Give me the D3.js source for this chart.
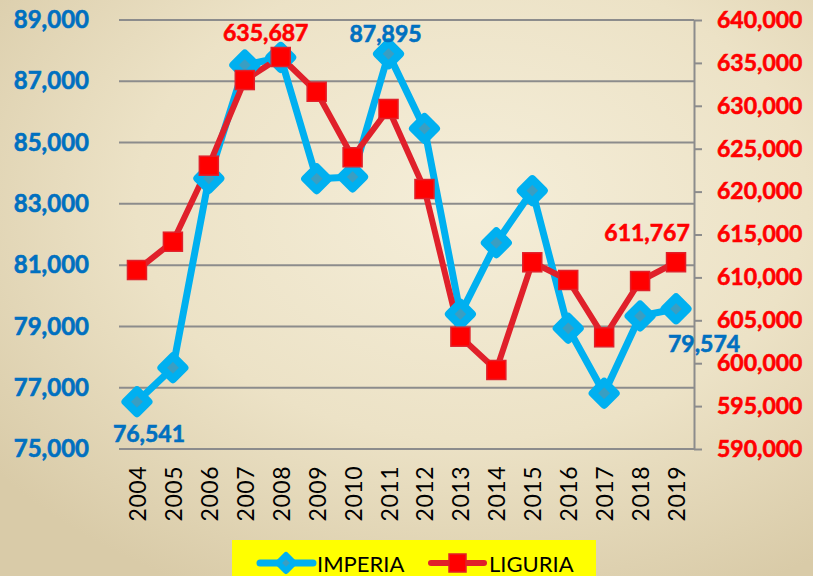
<!DOCTYPE html>
<html>
<head>
<meta charset="utf-8">
<script src="https://cdn.jsdelivr.net/npm/d3@7"></script>
<style>
  body { margin: 0; }
  svg { display: block; }
</style>
</head>
<body>
<div id="chart"></div>
<script>
// Data
const years = ["2004","2005","2006","2007","2008","2009","2010","2011","2012","2013","2014","2015","2016","2017","2018","2019"];
const imperia = [76541, 77650, 83830, 87530, 87780, 83820, 83880, 87895, 85460, 79400, 81730, 83430, 78940, 76820, 79340, 79574];
const liguria = [610860, 614160, 623020, 633000, 635687, 631640, 624000, 629630, 620300, 603090, 599210, 611760, 609700, 603020, 609580, 611767];
const leftTicks = [75000, 77000, 79000, 81000, 83000, 85000, 87000, 89000];
const rightTicks = [590000, 595000, 600000, 605000, 610000, 615000, 620000, 625000, 630000, 635000, 640000];

const W = 813, H = 576;
const plot = { left: 119, right: 694, top: 20, bottom: 449 };
const fmt = d3.format(",");

const svg = d3.select("#chart")
    .append("svg")
    .attr("width", W)
    .attr("height", H);

// Background gradient
const defs = svg.append("defs");
const grad = defs.append("radialGradient")
    .attr("id", "bg")
    .attr("cx", "0.58").attr("cy", "0.35").attr("r", "0.75");
grad.append("stop").attr("offset", "0%").attr("stop-color", "#f5eed9");
grad.append("stop").attr("offset", "55%").attr("stop-color", "#ece2c6");
grad.append("stop").attr("offset", "100%").attr("stop-color", "#d9cba8");
svg.append("rect").attr("width", W).attr("height", H).attr("fill", "url(#bg)");

// Scales
const x = d3.scalePoint()
    .domain(years)
    .range([plot.left, plot.right])
    .padding(0.5);

const yL = d3.scaleLinear()
    .domain([75000, 89000])
    .range([plot.bottom, plot.top]);

const yR = d3.scaleLinear()
    .domain([590000, 640000])
    .range([plot.bottom, plot.top]);

// Gridlines (left axis)
svg.append("g")
    .selectAll("line")
    .data(leftTicks)
    .enter()
    .append("line")
    .attr("x1", plot.left)
    .attr("x2", plot.right)
    .attr("y1", d => yL(d))
    .attr("y2", d => yL(d))
    .attr("stroke", "#8c8c8c")
    .attr("stroke-width", 2);

// Left axis labels
const leftAxis = svg.append("g")
    .attr("transform", `translate(${plot.left},0)`)
    .call(d3.axisLeft(yL).tickValues(leftTicks).tickFormat(fmt).tickSize(0).tickPadding(30));
leftAxis.select(".domain").remove();
leftAxis.selectAll("text")
    .attr("fill", "#0070c0")
    .attr("stroke", "#0070c0")
    .attr("stroke-width", 0.6)
    .style("font-family", "Lato")
    .style("font-weight", "bold")
    .style("font-size", "24px");

// Right axis
const rightAxis = svg.append("g")
    .attr("transform", `translate(${plot.right},0)`)
    .call(d3.axisRight(yR).tickValues(rightTicks).tickFormat(fmt).tickSize(8).tickSizeOuter(0).tickPadding(15));
rightAxis.select(".domain").attr("stroke", "#8c8c8c").attr("stroke-width", 2);
rightAxis.selectAll(".tick line").attr("stroke", "#8c8c8c").attr("stroke-width", 2);
rightAxis.selectAll("text")
    .attr("fill", "#ff0000")
    .attr("stroke", "#ff0000")
    .attr("stroke-width", 0.6)
    .style("font-family", "Lato")
    .style("font-weight", "bold")
    .style("font-size", "23px");

// X axis labels (rotated)
svg.append("g")
    .selectAll("text")
    .data(years)
    .enter()
    .append("text")
    .attr("transform", d => `translate(${x(d)},466) rotate(-90)`)
    .attr("text-anchor", "end")
    .attr("dominant-baseline", "central")
    .attr("fill", "#000")
    .style("font-family", "Lato")
    .style("font-size", "23px")
    .style("letter-spacing", "0.5px")
    .text(d => d);

// Lines
const blue = "#00b0f0", red = "#e0202a";

svg.append("path")
    .datum(imperia)
    .attr("fill", "none")
    .attr("stroke", blue)
    .attr("stroke-width", 7)
    .attr("stroke-linejoin", "round")
    .attr("d", d3.line().x((d, i) => x(years[i])).y(d => yL(d)));

svg.append("path")
    .datum(liguria)
    .attr("fill", "none")
    .attr("stroke", red)
    .attr("stroke-width", 6)
    .attr("stroke-linejoin", "round")
    .attr("d", d3.line().x((d, i) => x(years[i])).y(d => yR(d)));

// Markers
const diamond = s => `M0,${-s}L${s},0L0,${s}L${-s},0Z`;

svg.append("g")
    .selectAll("path")
    .data(imperia)
    .enter()
    .append("path")
    .attr("transform", (d, i) => `translate(${x(years[i])},${yL(d)})`)
    .attr("d", diamond(11.5))
    .attr("fill", "#3a9ec2")
    .attr("stroke", blue)
    .attr("stroke-width", 8)
    .attr("stroke-linejoin", "round");

svg.append("g")
    .selectAll("rect")
    .data(liguria)
    .enter()
    .append("rect")
    .attr("x", (d, i) => x(years[i]) - 9.5)
    .attr("y", d => yR(d) - 9.5)
    .attr("width", 19)
    .attr("height", 19)
    .attr("fill", "#ff0000")
    .attr("stroke", red)
    .attr("stroke-width", 1.5);

// Data labels
const labels = [
    { i: 0, v: imperia[0], y: yL(imperia[0]), dx: 12, dy: 31, color: "#0070c0" },
    { i: 7, v: imperia[7], y: yL(imperia[7]), dx: -3, dy: -21, color: "#0070c0" },
    { i: 15, v: imperia[15], y: yL(imperia[15]), dx: 28, dy: 34, color: "#0070c0" },
    { i: 4, v: liguria[4], y: yR(liguria[4]), dx: -15, dy: -25, color: "#ff0000" },
    { i: 15, v: liguria[15], y: yR(liguria[15]), dx: -29, dy: -30, color: "#ff0000" }
];
svg.append("g")
    .selectAll("text")
    .data(labels)
    .enter()
    .append("text")
    .attr("x", d => x(years[d.i]) + d.dx)
    .attr("y", d => d.y + d.dy)
    .attr("text-anchor", "middle")
    .attr("dominant-baseline", "central")
    .attr("fill", d => d.color)
    .attr("stroke", d => d.color)
    .attr("stroke-width", 0.6)
    .style("font-family", "Lato")
    .style("font-weight", "bold")
    .style("font-size", "23px")
    .text(d => fmt(d.v));

// Legend
const legend = svg.append("g");
legend.append("rect")
    .attr("x", 232).attr("y", 540)
    .attr("width", 364).attr("height", 36)
    .attr("fill", "#ffff00");

const ly = 563;
legend.append("line")
    .attr("x1", 260).attr("x2", 313).attr("y1", ly).attr("y2", ly)
    .attr("stroke", blue).attr("stroke-width", 7).attr("stroke-linecap", "round");
legend.append("path")
    .attr("transform", `translate(286,${ly})`)
    .attr("d", diamond(8))
    .attr("fill", "#3a9ec2")
    .attr("stroke", blue)
    .attr("stroke-width", 6)
    .attr("stroke-linejoin", "round");
legend.append("text")
    .attr("x", 317).attr("y", ly)
    .attr("dominant-baseline", "central")
    .style("font-family", "Lato")
    .style("font-size", "22px")
    .attr("fill", "#000")
    .text("IMPERIA");

legend.append("line")
    .attr("x1", 431).attr("x2", 484).attr("y1", ly).attr("y2", ly)
    .attr("stroke", red).attr("stroke-width", 6).attr("stroke-linecap", "round");
legend.append("rect")
    .attr("x", 449).attr("y", ly - 9)
    .attr("width", 17).attr("height", 18)
    .attr("fill", "#ff0000")
    .attr("stroke", red).attr("stroke-width", 1.5);
legend.append("text")
    .attr("x", 489).attr("y", ly)
    .attr("dominant-baseline", "central")
    .style("font-family", "Lato")
    .style("font-size", "22px")
    .attr("fill", "#000")
    .text("LIGURIA");
</script>
</body>
</html>
